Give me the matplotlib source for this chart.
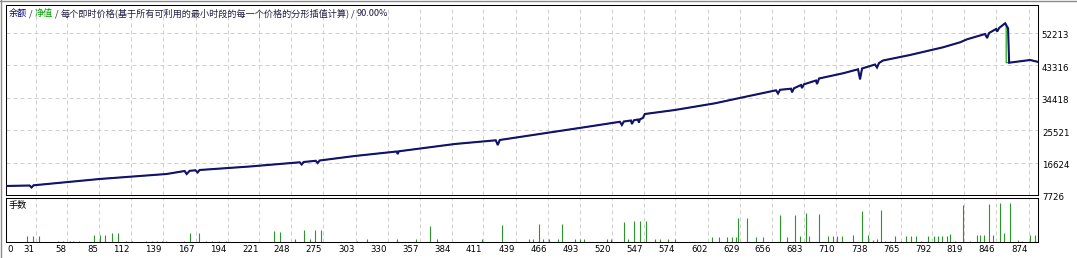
import matplotlib
matplotlib.use('Agg')
import matplotlib.pyplot as plt
from matplotlib.transforms import ScaledTranslation
from matplotlib.lines import Line2D

# ---------------- data ----------------
balance_trade = [5.5, 25.9, 27.6, 29.3, 85.3, 142.2, 157.5, 159.2, 161.8, 166.8, 168.5, 170.2,
                 198.3, 212.7, 255.1, 256.8, 258.5, 268.7, 270.4, 272.1, 301.8, 337.5, 338.3,
                 339.2, 386.7, 421.5, 423.2, 424.9, 471.6, 499.7, 526.8, 528.5, 530.2, 536.2,
                 537.0, 538.7, 542.1, 543.0, 543.8, 546.3, 548.0, 573.5, 607.5, 631.2, 659.3,
                 661.0, 662.7, 672.0, 672.9, 674.5, 680.5, 681.3, 683.0, 693.2, 694.1, 695.8,
                 716.1, 728.9, 730.6, 732.3, 743.3, 745.0, 746.7, 750.1, 773.0, 801.0, 815.5,
                 821.4, 836.7, 838.4, 840.1, 846.0, 846.9, 848.6, 853.7, 856.2, 857.1, 874.9,
                 880.9]
balance_value = [10197, 10335, 9786, 10390, 12120, 13493, 14316, 13493, 14371, 14509, 13905, 14591,
                 15223, 15552, 16705, 16101, 16788, 17117, 16513, 17200, 18435, 19671, 18984,
                 19726, 21731, 22747, 21456, 22829, 25108, 26481, 27827, 26948, 27909, 28184,
                 27223, 28239, 28459, 27634, 28514, 28870, 29969, 31067, 32906, 34554, 36476,
                 35597, 36614, 36916, 35927, 37026, 37932, 37108, 38124, 39168, 38207, 39717,
                 41144, 42243, 39497, 42463, 43560, 42737, 43974, 44660, 46170, 48284, 49657,
                 50481, 51937, 50838, 52211, 53310, 52623, 53584, 54874, 53500, 44055, 44797,
                 44330]
equity_tail_trade = [854.6, 854.6, 857.1, 874.9, 880.9]
equity_tail_value = [54700, 44055, 44055, 44797, 44330]

lot_trade = [24, 29, 34, 50, 54, 60, 63, 68, 81, 86, 90, 96, 101, 108, 113, 125, 130, 134, 138, 142,
             157, 162, 170, 176, 181, 187, 193, 233, 238, 251, 259, 264, 268, 273, 304, 312, 338,
             354, 366, 372, 410, 427, 450, 453, 458, 462, 467, 474, 478, 489, 493, 496, 516, 519,
             530, 534, 539, 544, 549, 557, 561, 568, 574, 605, 611, 618, 622, 625, 627, 635, 642,
             648, 663, 669, 675, 680, 685, 687, 696, 703, 708, 711, 715, 725, 732, 737, 742, 745,
             748, 752, 756, 760, 765, 770, 774, 778, 782, 788, 793, 797, 800, 804, 807, 811, 818,
             824, 830, 832, 836, 840, 843, 849, 853, 858, 865, 868, 875, 879]
lot_size = [0.6, 0.6, 0.6, 0.1, 0.1, 0.1, 0.1, 0.1, 0.7, 0.7, 0.7, 0.9, 0.9, 0.1, 0.1, 0.1, 0.1, 0.1, 0.1, 0.1,
            0.1, 0.9, 0.9, 0.1, 0.1, 0.1, 0.1, 1.1, 1.0, 0.3, 1.2, 0.3, 1.2, 1.2, 0.1, 0.3, 0.3,
            0.3, 1.6, 0.3, 0.3, 1.7, 0.3, 0.3, 1.8, 0.3, 0.3, 0.3, 1.8, 0.3, 0.3, 0.3, 0.3, 0.3,
            2.0, 0.3, 2.1, 2.1, 2.1, 0.3, 0.3, 0.3, 0.3, 0.5, 0.5, 0.5, 0.5, 0.5, 2.4, 2.4, 0.5,
            0.5, 2.7, 0.5, 2.7, 0.6, 2.9, 0.6, 2.8, 0.6, 0.6, 0.6, 0.6, 0.7, 3.1, 0.7, 0.2, 0.3,
            3.2, 0.1, 0.1, 0.6, 0.1, 0.6, 0.6, 0.6, 0.1, 0.6, 0.6, 0.6, 0.6, 0.6, 0.8, 0.1, 3.7,
            0.1, 0.7, 0.7, 0.7, 3.8, 0.7, 3.9, 0.9, 3.9, 0.2, 0.1, 0.7, 0.7]

x_ticks = [31, 58, 85, 112, 139, 167, 194, 221, 248, 275, 303, 330, 357, 384, 411, 439, 466, 493,
           520, 547, 574, 602, 629, 656, 683, 710, 738, 765, 792, 819, 846, 874]
x_first_label = '0'
y_ticks = [7726, 16624, 25521, 34418, 43316, 52213]

title_parts = ['余额', ' / ', '净值', ' / ', '每个即时价格(基于所有可利用的最小时段的每一个价格的分形插值计算)', ' / ', '90.00%']
title_colors = ['#000080', '#202040', '#00a000', '#202040', '#202040', '#202040', '#202040']
lots_label = '手数'

# ---------------- figure ----------------
W, H = 1077, 258
fig = plt.figure(figsize=(W / 100, H / 100), dpi=100, facecolor='white')
cjk = ['Noto Sans CJK SC', 'DejaVu Sans']

def px_rect(x0, y0, x1, y1):
    return [x0 / W, 1 - y1 / H, (x1 - x0) / W, (y1 - y0) / H]

ax = fig.add_axes(px_rect(5.5, 5, 1038, 195))
ax2 = fig.add_axes(px_rect(5.5, 197.5, 1038, 241.5), sharex=ax)

xmin, xmax = 5.5, 881.6
grid_kw = dict(color='#d0d0d0', linestyle=(0, (4, 3)), linewidth=0.72)

for a in (ax, ax2):
    for s in a.spines.values():
        s.set_linewidth(0.75)
        s.set_color('black')
    a.set_facecolor('white')

# equity (green) under balance (navy)
eq_t = balance_trade[:-4] + equity_tail_trade
eq_v = balance_value[:-4] + equity_tail_value
ax.plot(eq_t, eq_v, color='#00a000', linewidth=0.8, zorder=2)
ax.plot(balance_trade, balance_value, color='#12126e', linewidth=1.5, zorder=3,
        solid_joinstyle='miter')

ax.set_xlim(xmin, xmax)
ax.set_ylim(7726, 59900)
ax.yaxis.tick_right()
ax.set_yticks(y_ticks, [str(v) for v in y_ticks])
ax.tick_params(axis='y', length=0, pad=2.8, labelsize=6.2, labelcolor='black')
ax.tick_params(axis='x', length=0, labelbottom=False)
for lbl in ax.get_yticklabels():
    lbl.set_transform(lbl.get_transform() + ScaledTranslation(0, -2 / 100, fig.dpi_scale_trans))
ax.grid(True, **grid_kw)
ax.set_axisbelow(True)

# title, multi-coloured
prev = None
for i, (s, c) in enumerate(zip(title_parts, title_colors)):
    if prev is None:
        prev = ax.annotate(s, xy=(0, 1), xycoords='axes fraction', xytext=(3, -8.5),
                           textcoords='offset pixels', ha='left', va='center',
                           fontsize=6.6, color=c, family=cjk)
    else:
        prev = ax.annotate(s, xy=(1, 0.5), xycoords=prev, ha='left', va='center',
                           fontsize=6.6, color=c, family=cjk)

# lots panel
ax2.vlines(lot_trade, 0, lot_size, color='#2a962a', linewidth=0.8)
ax2.set_ylim(0, 4.4)
ax2.set_yticks([])
ax2.set_xticks([xmin] + x_ticks, [x_first_label] + [str(v) for v in x_ticks])
ax2.tick_params(axis='x', length=0, pad=2.6, labelsize=6.2, labelcolor='black')
labels = ax2.get_xticklabels()
for i, lbl in enumerate(labels):
    if i == 0:
        lbl.set_ha('left')
        lbl.set_transform(lbl.get_transform() + ScaledTranslation(1.5 / 100, 0, fig.dpi_scale_trans))
    else:
        lbl.set_ha('right')
        lbl.set_transform(lbl.get_transform() + ScaledTranslation(-1 / 100, 0, fig.dpi_scale_trans))
ax2.xaxis.grid(True, **grid_kw)
ax2.set_axisbelow(True)
ax2.annotate(lots_label, xy=(0, 1), xycoords='axes fraction', xytext=(3, -8),
             textcoords='offset pixels', ha='left', va='center', fontsize=6.6,
             color='black', family=cjk)

# window chrome lines
fig.add_artist(Line2D([0.6 / W, 0.6 / W], [0, 1], transform=fig.transFigure,
                      color='#8a8a8a', linewidth=1.0))
fig.add_artist(Line2D([0, 1], [1 - 0.6 / H, 1 - 0.6 / H], transform=fig.transFigure,
                      color='#8a8a8a', linewidth=1.0))

fig.savefig('out.png', dpi=100, facecolor='white')
